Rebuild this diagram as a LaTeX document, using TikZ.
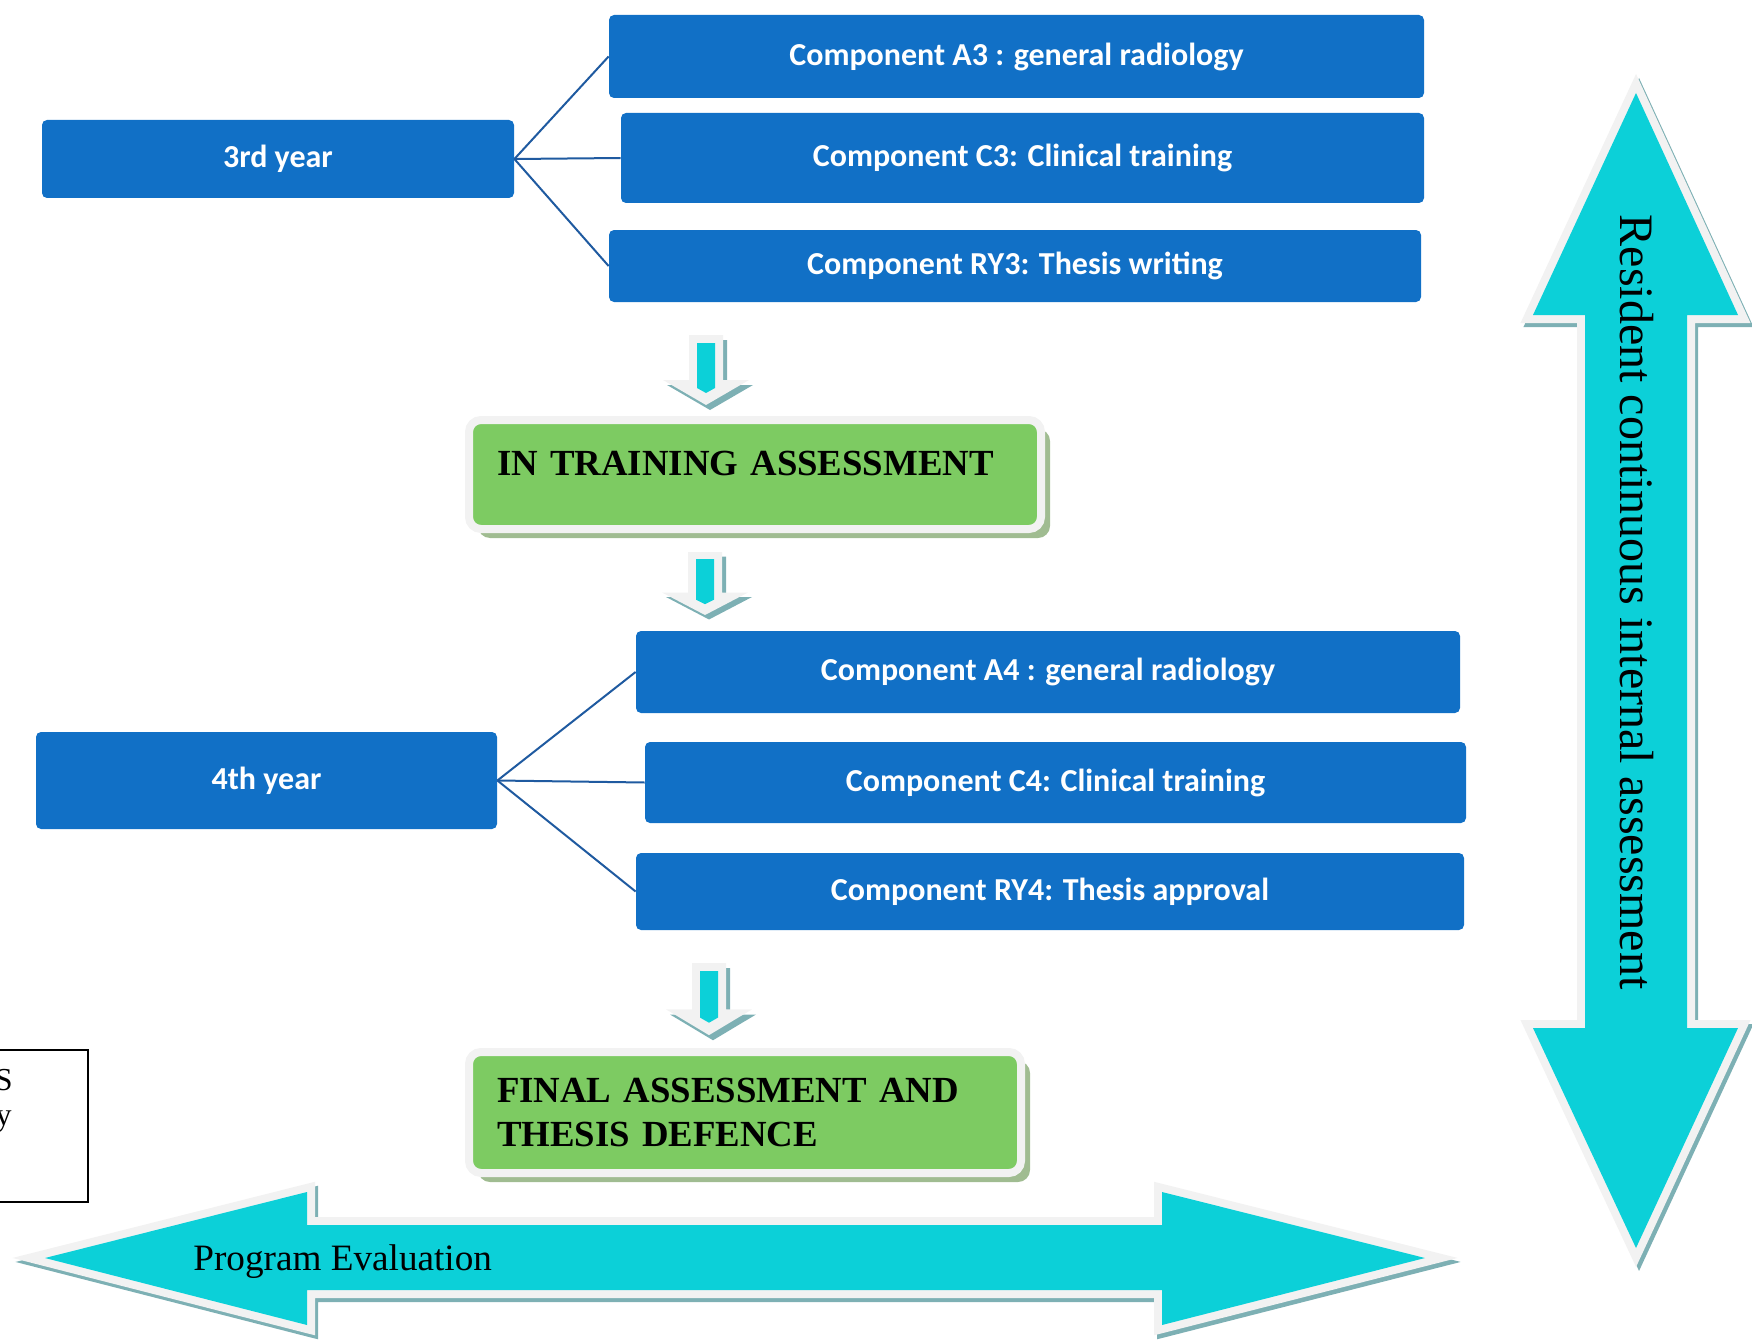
\documentclass[tikz,border=0pt]{standalone}
\usepackage{fontspec}
\setmainfont{Liberation Serif}
\newfontfamily\calibri{Carlito}
\usetikzlibrary{shadows}

\definecolor{compblue}{RGB}{17,112,198}
\definecolor{linkblue}{RGB}{31,90,160}
\definecolor{assessgreen}{RGB}{125,203,98}
\definecolor{greenshadow}{RGB}{160,188,145}
\definecolor{arrowcyan}{RGB}{12,208,216}
\definecolor{arrowrim}{RGB}{242,242,242}
\definecolor{arrowshadow}{RGB}{125,176,180}

\tikzset{
  comp/.style={fill=compblue, rounded corners=2.5pt, text=white, inner sep=0pt,
    font=\calibri\bfseries\fontsize{16}{19}\selectfont},
  assess/.style={fill=assessgreen, draw=arrowrim, line width=4pt, rounded corners=6pt,
    inner xsep=14pt, inner ysep=0pt, align=left,
    font=\bfseries\fontsize{18.4}{22}\selectfont,
    drop shadow={shadow xshift=4.5pt, shadow yshift=-4.5pt, fill=greenshadow, opacity=1}},
  link/.style={draw=linkblue, line width=1pt},
  rimline/.style={draw=arrowrim, line width=8pt, line join=miter},
  rimshadow/.style={draw=arrowshadow, fill=arrowshadow, line width=8pt, line join=miter},
  arrowlabel/.style={inner sep=0pt, font=\fontsize{18.6}{22}\selectfont},
  cuttext/.style={inner sep=0pt, font=\fontsize{16}{19}\selectfont},
}

% block arrows (pixel coordinates, y downwards)
\def\vertarrowpath{(1636,93) -- (1738,315) -- (1687,315) -- (1687,1028) -- (1738,1028)
  -- (1636,1248) -- (1533,1028) -- (1585,1028) -- (1585,315) -- (1533,315) -- cycle}
\def\horzarrowpath{(45,1258) -- (307,1192) -- (307,1225) -- (1162,1225) -- (1162,1192)
  -- (1425,1258) -- (1162,1325) -- (1162,1290) -- (307,1290) -- (307,1325) -- cycle}

% small down arrow: centre x, top y, height factor
\newcommand\stepdown[3]{%
  \begin{scope}[shift={(#1,#2)}, yscale=#3]
    \fill[arrowshadow] (-13,5) -- (21,5) -- (21,50) -- (47,50) -- (4,75) -- (-39,50) -- (-13,50) -- cycle;
    \fill[arrowrim] (-17,0) -- (17,0) -- (17,45) -- (43,45) -- (0,70) -- (-43,45) -- (-17,45) -- cycle;
    \fill[arrowcyan] (-9,8) -- (9,8) -- (9,53) -- (0,58) -- (-9,53) -- cycle;
  \end{scope}}

\begin{document}
\begin{tikzpicture}[x=0.5pt,y=-0.5pt]
  \useasboundingbox (0,0) rectangle (1752,1343);
  \clip (0,0) rectangle (1752,1343);

  % big arrows
  \path[rimshadow, shift={(3,4)}] \vertarrowpath;
  \path[rimline] \vertarrowpath;
  \fill[arrowcyan] \vertarrowpath;
  \node[arrowlabel, rotate=-90, font=\fontsize{24}{28}\selectfont] (rcia) at (1637,602)
    {Resident continuous internal assessment};

  \path[rimshadow, shift={(3,4)}] \horzarrowpath;
  \path[rimline] \horzarrowpath;
  \fill[arrowcyan] \horzarrowpath;
  \node[arrowlabel, anchor=base west] (peval) at (193,1270) {Program Evaluation};

  % 3rd year
  \node[comp, minimum width=236pt, minimum height=39pt] (y3) at (278,159) {3rd year};
  \node[comp, minimum width=407.5pt, minimum height=41.5pt] (a3) at (1016.5,56.5) {Component A3 : general radiology};
  \node[comp, minimum width=401.5pt, minimum height=45pt] (c3) at (1022.5,158) {Component C3: Clinical training};
  \node[comp, minimum width=406pt, minimum height=36pt] (ry3) at (1015,266) {Component RY3: Thesis writing};
  \draw[link] (y3.east) -- (a3.west);
  \draw[link] (y3.east) -- (c3.west);
  \draw[link] (y3.east) -- (ry3.west);

  \stepdown{706}{335}{1}
  \node[assess, text width=258pt, text height=27.5pt, text depth=27pt] (itass) at (755,474.5)
    {IN TRAINING ASSESSMENT};
  \stepdown{705}{552}{0.9}

  % 4th year
  \node[comp, minimum width=230.5pt, minimum height=48.5pt] (y4) at (266.5,780.5) {4th year};
  \node[comp, minimum width=412pt, minimum height=41pt] (a4) at (1048,672) {Component A4 : general radiology};
  \node[comp, minimum width=410.5pt, minimum height=40.5pt] (c4) at (1055.5,782.5) {Component C4: Clinical training};
  \node[comp, minimum width=414pt, minimum height=38.5pt] (ry4) at (1050,891.5) {Component RY4: Thesis approval};
  \draw[link] (y4.east) -- (a4.west);
  \draw[link] (y4.east) -- (c4.west);
  \draw[link] (y4.east) -- (ry4.west);

  \stepdown{709}{963}{1.03}
  \node[assess, text width=248pt, minimum height=60.5pt] (final) at (745,1112.5)
    {FINAL ASSESSMENT AND\\THESIS DEFENCE};

  % box cut at the left edge
  \draw[line width=1pt] (-20,1050) rectangle (88,1202);
  \node[cuttext, anchor=base east] (cuts) at (13,1090) {S};
  \node[cuttext, anchor=base east] (cuty) at (12,1125) {y};
\end{tikzpicture}
\end{document}
